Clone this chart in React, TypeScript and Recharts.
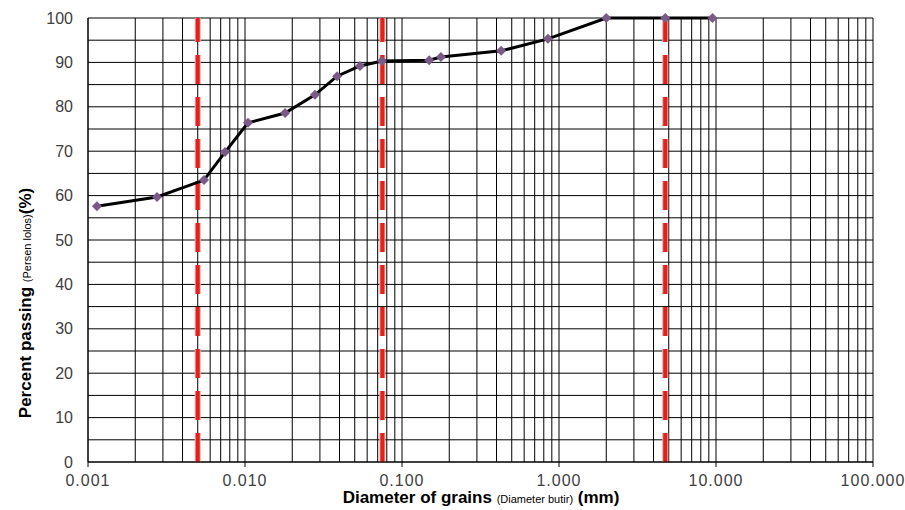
import { LineChart, Line, XAxis, YAxis, CartesianGrid, ReferenceLine } from "recharts";

const diameters = [
  0.00114, 0.00275, 0.00548, 0.00746, 0.01045, 0.018, 0.0279, 0.0386, 0.054,
  0.0746, 0.149, 0.177, 0.428, 0.85, 2.0, 4.75, 9.5,
];
const passing = [
  57.6, 59.7, 63.5, 69.8, 76.4, 78.6, 82.7, 86.9, 89.2, 90.3, 90.5, 91.2, 92.6,
  95.3, 100, 100, 100,
];
const decades = [0.001, 0.01, 0.1, 1, 10, 100];
const decadeLabels = ["0.001", "0.010", "0.100", "1.000", "10.000", "100.000"];
const yTicks = [0, 5, 10, 15, 20, 25, 30, 35, 40, 45, 50, 55, 60, 65, 70, 75, 80, 85, 90, 95, 100];
const limits = [0.005, 0.075, 4.75];

// minor grid: 1..9 in each decade
const xTicks: number[] = [];
decades.slice(0, -1).forEach((d) => {
  for (let m = 1; m < 10; m++) xTicks.push(+(d * m).toPrecision(3));
});
xTicks.push(100);

const data = diameters.map((x, i) => ({ x, y: passing[i] }));

const FONT = "'Liberation Sans', Arial, sans-serif";

function XTick(props: any) {
  const { x, y, payload } = props;
  const i = decades.indexOf(payload.value);
  if (i < 0) return <g />;
  return (
    <g>
      <line x1={x} x2={x} y1={y - 8} y2={y - 3} stroke="#000" />
      <text
        x={x}
        y={y + 16}
        textAnchor="middle"
        fontSize={16}
        letterSpacing={1}
        fill="#404040"
        fontFamily={FONT}
      >
        {decadeLabels[i]}
      </text>
    </g>
  );
}

function Diamond(props: any) {
  const { cx, cy } = props;
  if (cx == null || cy == null) return <g />;
  const r = 5;
  return (
    <polygon
      points={`${cx},${cy - r} ${cx + r},${cy} ${cx},${cy + r} ${cx - r},${cy}`}
      fill="#7b5a87"
    />
  );
}

function YTitle() {
  return (
    <text
      x={31}
      y={303}
      transform="rotate(-90, 31, 303)"
      textAnchor="middle"
      fontFamily={FONT}
      fill="#000"
    >
      <tspan fontSize={17} fontWeight="bold">Percent passing </tspan>
      <tspan fontSize={11}>(Persen lolos)</tspan>
      <tspan fontSize={17} fontWeight="bold">(%)</tspan>
    </text>
  );
}

function XTitle() {
  return (
    <text x={481} y={503} textAnchor="middle" fontFamily={FONT} fill="#000">
      <tspan fontSize={17} fontWeight="bold">Diameter of grains </tspan>
      <tspan fontSize={11}>(Diameter butir)</tspan>
      <tspan fontSize={17} fontWeight="bold"> (mm)</tspan>
    </text>
  );
}

export default function App() {
  return (
    <div style={{ position: "absolute", left: 0, top: 0, background: "#fff" }}>
      <LineChart width={905} height={510} data={data} margin={{ top: 18, right: 32, bottom: 18, left: 28 }}>
        <CartesianGrid stroke="#000" strokeWidth={1} />
        <XAxis
          dataKey="x"
          type="number"
          scale="log"
          domain={[0.001, 100]}
          ticks={xTicks}
          interval={0}
          allowDataOverflow
          height={30}
          tickLine={false}
          tickSize={0}
          tickMargin={8}
          tick={<XTick />}
          stroke="#000"
        />
        <YAxis
          type="number"
          domain={[0, 100]}
          ticks={yTicks}
          interval={0}
          width={60}
          tickLine={false}
          tickSize={4}
          tickMargin={11}
          tickFormatter={(v: number) => (v % 10 === 0 ? String(v) : "")}
          tick={{ fontSize: 16, fill: "#404040", fontFamily: FONT }}
          stroke="#000"
        />
        {limits.map((v) => (
          <ReferenceLine key={"h" + v} x={v} stroke="#f2a6a6" strokeWidth={6} strokeDasharray="29 13" />
        ))}
        {limits.map((v) => (
          <ReferenceLine key={"r" + v} x={v} stroke="#e3211c" strokeWidth={4} strokeDasharray="29 13" />
        ))}
        <Line
          dataKey="y"
          stroke="#000"
          strokeWidth={3}
          dot={<Diamond />}
          activeDot={false}
          isAnimationActive={false}
        />
        <YTitle />
        <XTitle />
      </LineChart>
    </div>
  );
}
